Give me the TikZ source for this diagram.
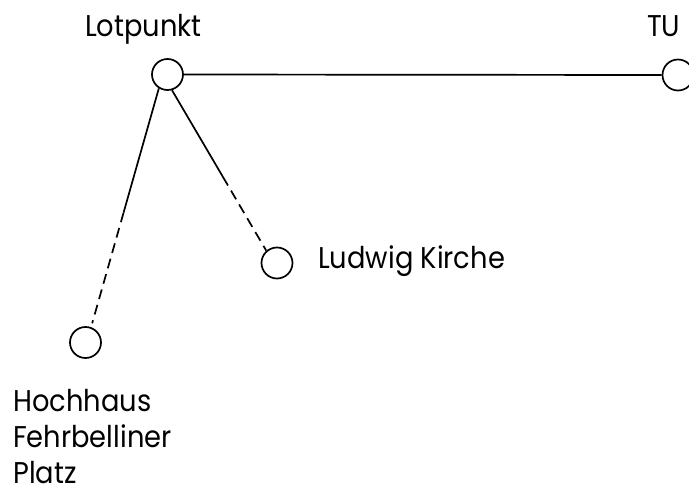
\documentclass[tikz,border=0pt]{standalone}
\usepackage{fontspec}
\setmainfont{Poppins}[FakeStretch=0.91]
\usetikzlibrary{calc}
\begin{document}
\begin{tikzpicture}[x=1pt,y=-1pt,
  station/.style={circle,draw,line width=1.7pt,minimum size=31pt,inner sep=0pt},
  lbl/.style={inner sep=0pt,font=\fontsize{30}{36}\selectfont},
  link/.style={line width=1.7pt},
  dlink/.style={line width=1.7pt,dash pattern=on 10pt off 6pt}]
\useasboundingbox (0,0) rectangle (689,490);
\node[station] (lot) at (167.5,74.5) {};
\node[station] (tu) at (678,75) {};
\node[station] (lud) at (277,263) {};
\node[station] (hoch) at (85.5,342.5) {};
\node[lbl,anchor=base west] (tlot) at (85,36) {Lotpunkt};
\node[lbl,anchor=base west] (ttu) at (647,36) {TU};
\node[lbl,anchor=base west] (tlud) at (318,268) {Ludwig Kirche};
\node[lbl,anchor=base west,align=left,text depth=0pt] (thoch) at (13,483) {Hochhaus\\Fehrbelliner\\Platz};
\draw[link] (lot.east) -- (tu.west);
\coordinate (a1) at (lot.238);
\coordinate (a2) at (hoch.70);
\coordinate (am) at ($(a1)!0.52!(a2)$);
\draw[link] (a1) -- (am);
\draw[dlink,shorten >=4pt] (am) -- (a2);
\coordinate (b1) at (lot.286);
\coordinate (b2) at (lud.131);
\coordinate (bm) at ($(b1)!0.54!(b2)$);
\draw[link] (b1) -- (bm);
\draw[dlink] (bm) -- (b2);
\end{tikzpicture}
\end{document}
